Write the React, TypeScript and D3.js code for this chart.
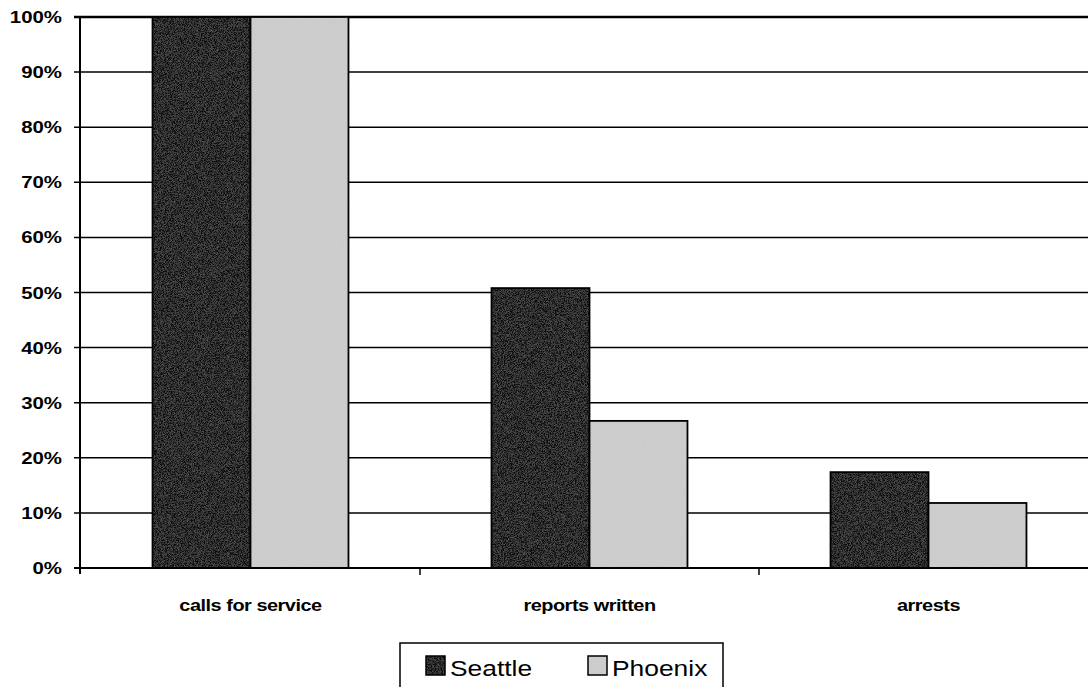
import React from "react";
import * as d3 from "d3";

const categories = ["calls for service", "reports written", "arrests"];
const seriesNames = ["Seattle", "Phoenix"];
const seattle = [100, 50.8, 17.4];
const phoenix = [100, 26.7, 11.8];
const yTicks = [0, 10, 20, 30, 40, 50, 60, 70, 80, 90, 100];
const colors = ["#111111", "#cfcfcf"];
const grains = ["grainDark", "grainLight"];

export default function App() {
  const W = 1088, H = 687;
  const left = 80, right = 1098, top = 17, bottom = 568;
  const x = d3.scaleBand().domain(categories).range([left + 1, right]).paddingInner(0).paddingOuter(0);
  const y = d3.scaleLinear().domain([0, 100]).range([bottom, top]);
  const inner = d3.scaleBand().domain(seriesNames).range([0, x.bandwidth()]).paddingInner(0).paddingOuter(0.73);
  const values = [seattle, phoenix];
  const font = "'Liberation Sans', Arial, sans-serif";
  const sx = 1.17;
  return (
    <svg width={W} height={H} style={{ position: "absolute", left: 0, top: 0, background: "#fff" }}>
      <defs>
        <filter id="grainDark" x="0" y="0" width="100%" height="100%">
          <feTurbulence type="fractalNoise" baseFrequency="1.3" numOctaves="1" seed="3" result="n" />
          <feColorMatrix in="n" type="matrix" values="0 0 0 0 0.45  0 0 0 0 0.45  0 0 0 0 0.45  0 0 0 0.5 -0.2" result="m" />
          <feComposite in="m" in2="SourceGraphic" operator="atop" />
        </filter>
        <filter id="grainLight" x="0" y="0" width="100%" height="100%">
          <feTurbulence type="fractalNoise" baseFrequency="1.3" numOctaves="1" seed="7" result="n" />
          <feColorMatrix in="n" type="matrix" values="0 0 0 0 0.5  0 0 0 0 0.5  0 0 0 0 0.5  0 0 0 0.45 -0.08" result="m" />
          <feComposite in="m" in2="SourceGraphic" operator="atop" />
        </filter>
      </defs>
      {yTicks.map((t) => (
        <g key={t}>
          <line x1={left - 6} x2={right} y1={y(t)} y2={y(t)} stroke="#000" strokeWidth={t === 100 ? 2.5 : 1.5} />
          <text transform={`translate(62,${y(t) + 6}) scale(1.2,1)`} textAnchor="end" fontFamily={font} fontSize={17} fontWeight="bold" fill="#000">
            {t}%
          </text>
        </g>
      ))}
      {categories.map((c, i) =>
        seriesNames.map((s, j) => {
          const bx = (x(c) as number) + (inner(s) as number);
          const by = y(values[j][i]);
          const bw = inner.bandwidth();
          const bh = bottom - by;
          return (
            <g key={c + s}>
              <rect x={bx} y={by} width={bw} height={bh} fill={colors[j]} filter={`url(#${grains[j]})`} />
              <rect x={bx} y={by} width={bw} height={bh} fill="none" stroke="#000" strokeWidth={1.8} />
            </g>
          );
        })
      )}
      <line x1={left} x2={left} y1={top} y2={bottom + 6} stroke="#000" strokeWidth={2} />
      <line x1={left - 6} x2={right} y1={bottom} y2={bottom} stroke="#000" strokeWidth={2} />
      {categories.slice(1).map((c) => (
        <line key={c} x1={x(c) as number} x2={x(c) as number} y1={bottom} y2={bottom + 7} stroke="#000" strokeWidth={1.5} />
      ))}
      {categories.map((c) => (
        <text key={c} transform={`translate(${(x(c) as number) + x.bandwidth() / 2},${611}) scale(${sx},1)`} textAnchor="middle" fontFamily={font} fontSize={17} fontWeight="bold" fill="#000" letterSpacing={-0.4}>
          {c}
        </text>
      ))}
      <rect x={400} y={643} width={323} height={60} fill="#fff" stroke="#000" strokeWidth={1.5} />
      {seriesNames.map((s, j) => {
        const lx = j === 0 ? 426 : 588;
        return (
          <g key={s}>
            <rect x={lx} y={656} width={19} height={19} fill={colors[j]} filter={`url(#${grains[j]})`} />
            <rect x={lx} y={656} width={19} height={19} fill="none" stroke="#000" strokeWidth={1.5} />
            <text transform={`translate(${lx + 24},${676}) scale(1.2,1)`} fontFamily={font} fontSize={22} fill="#000">
              {s}
            </text>
          </g>
        );
      })}
    </svg>
  );
}
